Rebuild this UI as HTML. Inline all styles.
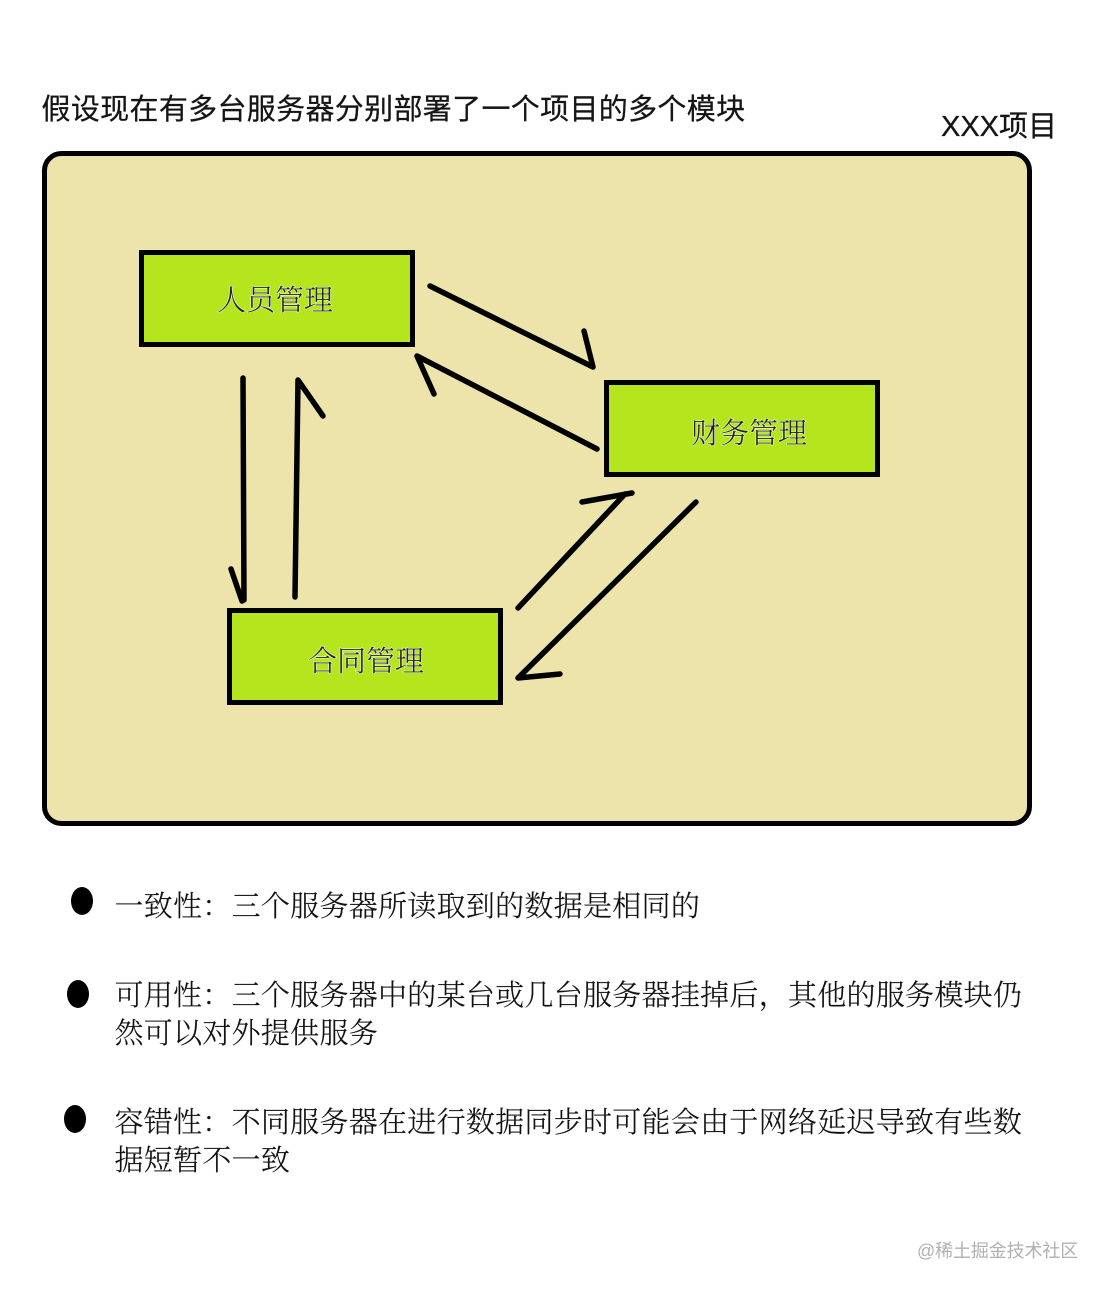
<!DOCTYPE html>
<html lang="zh"><head><meta charset="utf-8"><style>
html,body{margin:0;padding:0;background:#fff}
svg{display:block}
.s{font-family:"Liberation Sans","Noto Sans CJK SC",sans-serif;fill:#151515;stroke:#151515;stroke-width:.25px}
.b{font-family:"Liberation Serif","Noto Serif CJK SC",serif;fill:#111;stroke:#111;stroke-width:.15px;font-size:29px;letter-spacing:.28px;font-weight:300}
.h{font-family:"Liberation Serif","Noto Serif CJK SC",serif;fill:#fff;stroke:#fff;stroke-width:1.2px;font-size:29px;font-weight:300;opacity:.75}
.n{font-family:"Liberation Serif","Noto Serif CJK SC",serif;fill:#222;font-size:29px;font-weight:300}
</style></head><body>
<svg width="1110" height="1293" viewBox="0 0 1110 1293" xmlns="http://www.w3.org/2000/svg">
<rect width="1110" height="1293" fill="#fff"/>
<text class="s" x="41.500" y="119" font-size="29" letter-spacing=".33">假设现在有多台服务器分别部署了一个项目的多个模块</text>
<text class="s" x="941" y="136" font-size="29">XXX项目</text>
<rect x="44.500" y="153.500" width="985" height="670" rx="17" fill="#ede4ac" stroke="#000" stroke-width="5"/>
<g fill="#b5e61d" stroke="#000" stroke-width="5">
<rect x="141.500" y="252.500" width="271" height="92"/>
<rect x="606.500" y="382.500" width="271" height="92"/>
<rect x="229.500" y="610.500" width="271" height="92"/>
</g>
<text class="h" x="217" y="310">人员管理</text>
<text class="h" x="691" y="443">财务管理</text>
<text class="h" x="308" y="671">合同管理</text>
<text class="n" x="217" y="310">人员管理</text>
<text class="n" x="691" y="443">财务管理</text>
<text class="n" x="308" y="671">合同管理</text>
<g fill="none" stroke="#000" stroke-width="5.500" stroke-linecap="round" stroke-linejoin="round">
<path d="M430 286L593 367M584 331L593 367"/>
<path d="M597 449L417 356L434 394"/>
<path d="M243 378L244 600M231 569L242 601"/>
<path d="M295 597L298 380L323 416"/>
<path d="M518 608L625 494M582 502L632 493"/>
<path d="M696 502L518 678L560 674"/>
</g>
<g fill="#000">
<ellipse cx="82" cy="901" rx="11" ry="14"/>
<ellipse cx="78" cy="994" rx="11" ry="14"/>
<ellipse cx="75" cy="1119" rx="11" ry="14"/>
</g>
<text class="b" x="114.500" y="916">一致性：三个服务器所读取到的数据是相同的</text>
<text class="b" x="114.500" y="1005">可用性：三个服务器中的某台或几台服务器挂掉后，其他的服务模块仍</text>
<text class="b" x="114.500" y="1043">然可以对外提供服务</text>
<text class="b" x="114.500" y="1132">容错性：不同服务器在进行数据同步时可能会由于网络延迟导致有些数</text>
<text class="b" x="114.500" y="1170">据短暂不一致</text>
<text x="917" y="1257" font-family="'Liberation Sans','Noto Sans CJK SC',sans-serif" font-size="18" fill="#b0b0b0" letter-spacing="-.12">@稀土掘金技术社区</text>
</svg>
</body></html>
